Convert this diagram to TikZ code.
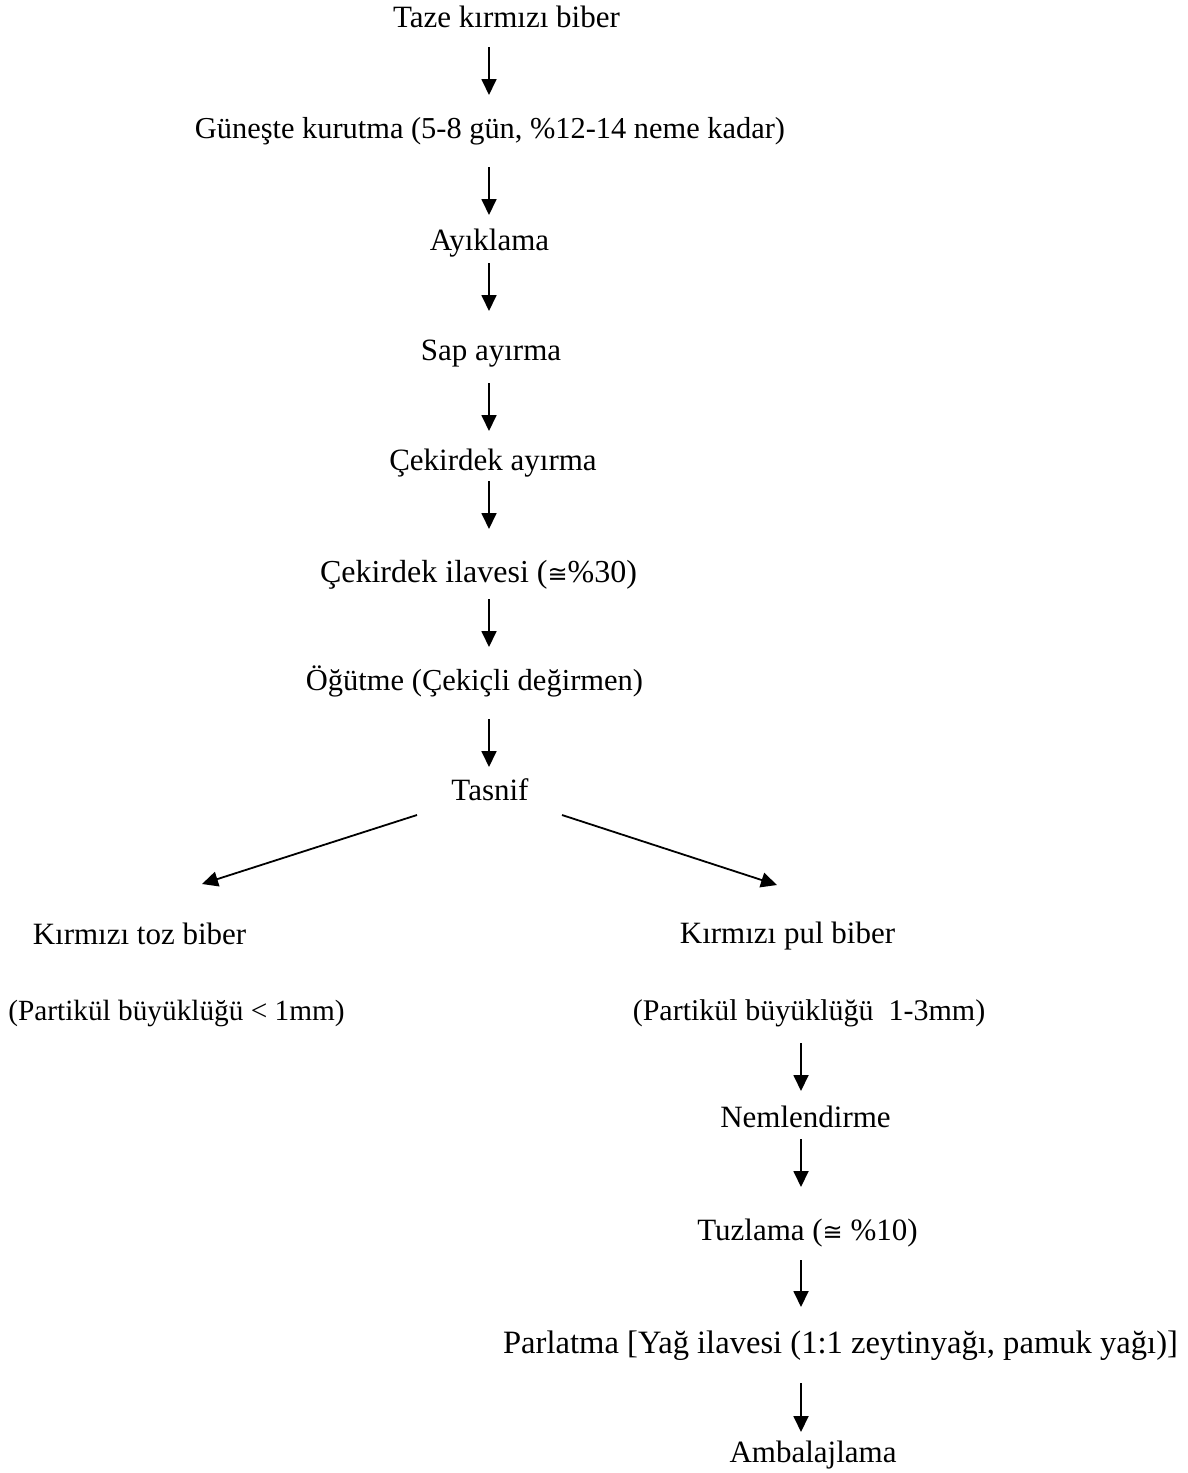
\documentclass[tikz,border=0pt]{standalone}
\usepackage{fontspec}
\setmainfont{Liberation Serif}
\newfontfamily\symfont{DejaVu Sans}
\usetikzlibrary{arrows.meta}
\newcommand\cng{{\symfont\fontsize{24}{30}\selectfont ≅}}
\begin{document}
\begin{tikzpicture}[x=1pt,y=-1pt,
  txt/.style={font=\fontsize{31}{36}\selectfont, inner sep=0pt, anchor=base},
  arr/.style={line width=1.8pt, -{Triangle[width=15pt,length=16pt]}}]
\useasboundingbox (0,0) rectangle (1187,1473);
\coordinate (L) at (489,0);
\coordinate (R) at (801,0);
\node[txt] (taze)   at (506.5,27)  {Taze kırmızı biber};
\node[txt,font=\fontsize{30.4}{36}\selectfont] (gun) at (490,138) {Güneşte kurutma (5-8 gün, \%12-14 neme kadar)};
\node[txt] (ayik)   at (489.5,250) {Ayıklama};
\node[txt] (sap)    at (491,360)   {Sap ayırma};
\node[txt] (cek)    at (493,470)   {Çekirdek ayırma};
\node[txt,font=\fontsize{32}{36}\selectfont] (ila) at (478.5,582) {Çekirdek ilavesi (\cng\%30)};
\node[txt,font=\fontsize{30.5}{36}\selectfont] (ogut) at (474.5,690) {Öğütme (Çekiçli değirmen)};
\node[txt] (tasnif) at (490,800)   {Tasnif};
\node[txt] (toz)    at (139.5,944) {Kırmızı toz biber};
\node[txt] (pul)    at (787.5,943) {Kırmızı pul biber};
\node[txt,font=\fontsize{29.3}{36}\selectfont] (p1) at (176.5,1020) {(Partikül büyüklüğü < 1mm)};
\node[txt,font=\fontsize{30}{36}\selectfont] (p2) at (809,1020) {(Partikül büyüklüğü\ \ 1-3mm)};
\node[txt] (nem)    at (805.5,1127) {Nemlendirme};
\node[txt] (tuz)    at (807.5,1240) {Tuzlama (\cng\ \%10)};
\node[txt,font=\fontsize{32.6}{38}\selectfont] (parl) at (840.5,1353) {Parlatma [Yağ ilavesi (1:1 zeytinyağı, pamuk yağı)]};
\node[txt] (amb)    at (813,1462)  {Ambalajlama};
\draw[arr] ([yshift=-20pt]taze.base -| L) -- ([yshift=43pt]gun.base -| L);
\draw[arr] ([yshift=-29pt]gun.base -| L) -- ([yshift=35pt]ayik.base -| L);
\draw[arr] ([yshift=-13pt]ayik.base -| L) -- ([yshift=49pt]sap.base -| L);
\draw[arr] ([yshift=-23pt]sap.base -| L) -- ([yshift=39pt]cek.base -| L);
\draw[arr] ([yshift=-11pt]cek.base -| L) -- ([yshift=53pt]ila.base -| L);
\draw[arr] ([yshift=-17pt]ila.base -| L) -- ([yshift=43pt]ogut.base -| L);
\draw[arr] ([yshift=-29pt]ogut.base -| L) -- ([yshift=33pt]tasnif.base -| L);
\draw[arr] ([xshift=-73pt,yshift=-15pt]tasnif.base) -- ([xshift=62.5pt,yshift=60pt]toz.base);
\draw[arr] ([xshift=72pt,yshift=-15pt]tasnif.base) -- ([xshift=-10.5pt,yshift=58pt]pul.base);
\draw[arr] ([yshift=-23pt]p2.base -| R) -- ([yshift=36pt]nem.base -| R);
\draw[arr] ([yshift=-12pt]nem.base -| R) -- ([yshift=53pt]tuz.base -| R);
\draw[arr] ([yshift=-20pt]tuz.base -| R) -- ([yshift=46pt]parl.base -| R);
\draw[arr] ([yshift=-30pt]parl.base -| R) -- ([yshift=30pt]amb.base -| R);
\end{tikzpicture}
\end{document}
